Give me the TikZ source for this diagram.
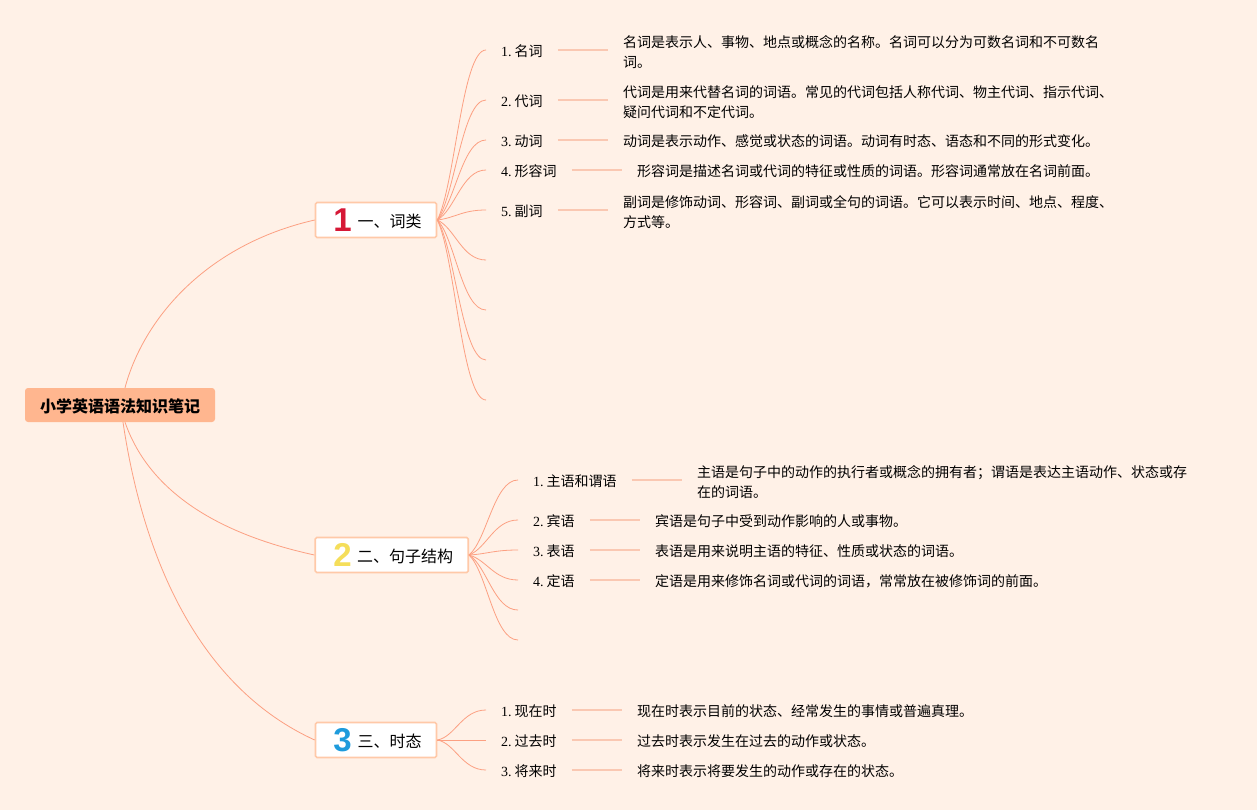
\documentclass[tikz,border=0pt]{standalone}
\usepackage{fontspec}
\setmainfont{Liberation Serif}
\newfontfamily\cjk{Noto Sans CJK SC}
\newfontfamily\digitfont{Liberation Sans}
\definecolor{mapcolor0000}{RGB}{255,241,231}
\definecolor{mapcolor0001}{RGB}{255,182,143}
\definecolor{mapcolor0002}{RGB}{255,201,168}
\definecolor{mapcolor0003}{RGB}{252,160,130}
\definecolor{mapcolor0004}{RGB}{250,200,178}
\definecolor{mapcolor0005}{RGB}{214,24,54}
\definecolor{mapcolor0006}{RGB}{245,222,90}
\definecolor{mapcolor0007}{RGB}{30,155,220}

\begin{document}
\begin{tikzpicture}[yscale=-1
,rootstyle/.style={fill=mapcolor0001,rounded corners=3pt,minimum width=190pt,minimum height=34pt,inner sep=0pt,font=\cjk\bfseries\fontsize{16}{20}\selectfont,text=black,execute at begin node={\rule{0pt}{17pt}}}
,topicstyle/.style={draw=mapcolor0002,fill=white,line width=1.6pt,rounded corners=1.5pt,minimum height=35pt,inner ysep=0pt,inner xsep=15pt,align=right,font=\cjk\fontsize{16}{20}\selectfont,text=black,execute at begin node={\rule{0pt}{17pt}}}
,numstyle/.style={font=\digitfont\bfseries\fontsize{33}{33}\selectfont,inner sep=0pt}
,labstyle/.style={right,inner xsep=15pt,inner ysep=0pt,font=\fontsize{14}{20}\selectfont,text=black,execute at begin node={\rule{0pt}{14.5pt}}}
,descstyle/.style={right,inner xsep=15pt,inner ysep=0pt,align=left,font=\cjk\fontsize{14}{20}\selectfont,text=black,execute at begin node={\rule{0pt}{14.5pt}}}
,pstyle1/.style={color=mapcolor0003,line width=0.8pt}
,pstyle2/.style={color=mapcolor0004,line width=1.5pt}
]
\useasboundingbox (0pt,0pt) rectangle (1257pt,810pt);
\fill[mapcolor0000] (0pt,0pt) rectangle (1257pt,810pt);
\node[rootstyle] (root) at (120pt,405pt) {小学英语语法知识笔记};
\node[topicstyle,text width=91pt] (topic1) at (376pt,220pt) {一、词类};
\node[topicstyle,text width=123pt] (topic2) at (391.7pt,555pt) {二、句子结构};
\node[topicstyle,text width=91pt] (topic3) at (376pt,740pt) {三、时态};
\node[numstyle,color=mapcolor0005] (num1) at (342.5pt,220pt) {1};
\node[numstyle,color=mapcolor0006] (num2) at (342.5pt,555pt) {2};
\node[numstyle,color=mapcolor0007] (num3) at (342.5pt,740pt) {3};
\draw[pstyle1] ([xshift=5pt]root.north) .. controls (143pt,320pt) and (205pt,245pt) .. (topic1.west);
\draw[pstyle1] ([xshift=5pt]root.south) .. controls (145pt,480pt) and (200pt,530pt) .. (topic2.west);
\draw[pstyle1] ([xshift=3pt]root.south) .. controls (145pt,570pt) and (205pt,690pt) .. (topic3.west);
% first branch
\node[labstyle] (lab11) at (486pt,50pt) {1.\hspace{3pt}{\cjk 名词}};
\node[labstyle] (lab12) at (486pt,100pt) {2.\hspace{3pt}{\cjk 代词}};
\node[labstyle] (lab13) at (486pt,140pt) {3.\hspace{3pt}{\cjk 动词}};
\node[labstyle] (lab14) at (486pt,170pt) {4.\hspace{3pt}{\cjk 形容词}};
\node[labstyle] (lab15) at (486pt,210pt) {5.\hspace{3pt}{\cjk 副词}};
\node[descstyle] (desc11) at (608pt,52pt) {名词是表示人、事物、地点或概念的名称。名词可以分为可数名词和不可数名\\词。};
\node[descstyle] (desc12) at (608pt,102pt) {代词是用来代替名词的词语。常见的代词包括人称代词、物主代词、指示代词、\\疑问代词和不定代词。};
\node[descstyle] (desc13) at (608pt,140pt) {动词是表示动作、感觉或状态的词语。动词有时态、语态和不同的形式变化。};
\node[descstyle] (desc14) at (622pt,170pt) {形容词是描述名词或代词的特征或性质的词语。形容词通常放在名词前面。};
\node[descstyle] (desc15) at (608pt,212pt) {副词是修饰动词、形容词、副词或全句的词语。它可以表示时间、地点、程度、\\方式等。};
\coordinate (end11) at (486pt,260pt);
\coordinate (end12) at (486pt,310pt);
\coordinate (end13) at (486pt,360pt);
\coordinate (end14) at (486pt,400pt);
\draw[pstyle1] (topic1.east) .. controls (455pt,186pt) and (462pt,50pt) .. (lab11.west);
\draw[pstyle1] (topic1.east) .. controls (455pt,196pt) and (462pt,100pt) .. (lab12.west);
\draw[pstyle1] (topic1.east) .. controls (455pt,204pt) and (462pt,140pt) .. (lab13.west);
\draw[pstyle1] (topic1.east) .. controls (455pt,210pt) and (462pt,170pt) .. (lab14.west);
\draw[pstyle1] (topic1.east) .. controls (455pt,218pt) and (462pt,210pt) .. (lab15.west);
\draw[pstyle1] (topic1.east) .. controls (455pt,228pt) and (462pt,260pt) .. (end11);
\draw[pstyle1] (topic1.east) .. controls (455pt,238pt) and (462pt,310pt) .. (end12);
\draw[pstyle1] (topic1.east) .. controls (455pt,248pt) and (462pt,360pt) .. (end13);
\draw[pstyle1] (topic1.east) .. controls (455pt,256pt) and (462pt,400pt) .. (end14);
\draw[pstyle2] (lab11.east) -- (lab11.east -| desc11.west);
\draw[pstyle2] (lab12.east) -- (lab12.east -| desc12.west);
\draw[pstyle2] (lab13.east) -- (desc13.west);
\draw[pstyle2] (lab14.east) -- (desc14.west);
\draw[pstyle2] (lab15.east) -- (lab15.east -| desc15.west);
% second branch
\node[labstyle] (lab21) at (518pt,480pt) {1.\hspace{3pt}{\cjk 主语和谓语}};
\node[labstyle] (lab22) at (518pt,520pt) {2.\hspace{3pt}{\cjk 宾语}};
\node[labstyle] (lab23) at (518pt,550pt) {3.\hspace{3pt}{\cjk 表语}};
\node[labstyle] (lab24) at (518pt,580pt) {4.\hspace{3pt}{\cjk 定语}};
\node[descstyle] (desc21) at (682pt,482pt) {主语是句子中的动作的执行者或概念的拥有者；谓语是表达主语动作、状态或存\\在的词语。};
\node[descstyle] (desc22) at (640pt,520pt) {宾语是句子中受到动作影响的人或事物。};
\node[descstyle] (desc23) at (640pt,550pt) {表语是用来说明主语的特征、性质或状态的词语。};
\node[descstyle] (desc24) at (640pt,580pt) {定语是用来修饰名词或代词的词语，常常放在被修饰词的前面。};
\coordinate (end21) at (518pt,610pt);
\coordinate (end22) at (518pt,640pt);
\draw[pstyle1] (topic2.east) .. controls (487pt,540pt) and (494pt,480pt) .. (lab21.west);
\draw[pstyle1] (topic2.east) .. controls (487pt,548pt) and (494pt,520pt) .. (lab22.west);
\draw[pstyle1] (topic2.east) .. controls (487pt,554pt) and (494pt,550pt) .. (lab23.west);
\draw[pstyle1] (topic2.east) .. controls (487pt,560pt) and (494pt,580pt) .. (lab24.west);
\draw[pstyle1] (topic2.east) .. controls (487pt,566pt) and (494pt,610pt) .. (end21);
\draw[pstyle1] (topic2.east) .. controls (487pt,572pt) and (494pt,640pt) .. (end22);
\draw[pstyle2] (lab21.east) -- (lab21.east -| desc21.west);
\draw[pstyle2] (lab22.east) -- (desc22.west);
\draw[pstyle2] (lab23.east) -- (desc23.west);
\draw[pstyle2] (lab24.east) -- (desc24.west);
% third branch
\node[labstyle] (lab31) at (486pt,710pt) {1.\hspace{3pt}{\cjk 现在时}};
\node[labstyle] (lab32) at (486pt,740pt) {2.\hspace{3pt}{\cjk 过去时}};
\node[labstyle] (lab33) at (486pt,770pt) {3.\hspace{3pt}{\cjk 将来时}};
\node[descstyle] (desc31) at (622pt,710pt) {现在时表示目前的状态、经常发生的事情或普遍真理。};
\node[descstyle] (desc32) at (622pt,740pt) {过去时表示发生在过去的动作或状态。};
\node[descstyle] (desc33) at (622pt,770pt) {将来时表示将要发生的动作或存在的状态。};
\draw[pstyle1] (topic3.east) .. controls (455pt,737pt) and (462pt,710pt) .. (lab31.west);
\draw[pstyle1] (topic3.east) -- (lab32.west);
\draw[pstyle1] (topic3.east) .. controls (455pt,743pt) and (462pt,770pt) .. (lab33.west);
\draw[pstyle2] (lab31.east) -- (desc31.west);
\draw[pstyle2] (lab32.east) -- (desc32.west);
\draw[pstyle2] (lab33.east) -- (desc33.west);
\end{tikzpicture}
\end{document}
